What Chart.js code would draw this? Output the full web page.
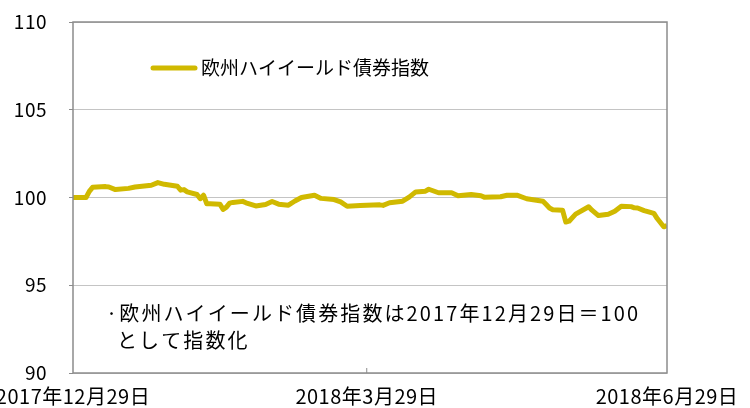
<!DOCTYPE html>
<html>
<head>
<meta charset="utf-8">
<script src="https://cdn.jsdelivr.net/npm/chart.js@4"></script>
<style>
  html, body { margin: 0; padding: 0; background: #fff; }
  #wrap { width: 750px; height: 408px; }
</style>
</head>
<body>
<div id="wrap"><canvas id="myChart"></canvas></div>
<script>
const dates = [
    "2017-12-29", "2018-01-02", "2018-01-03", "2018-01-04", "2018-01-08", "2018-01-09",
    "2018-01-11", "2018-01-15", "2018-01-17", "2018-01-22", "2018-01-24", "2018-01-26",
    "2018-01-30", "2018-01-31", "2018-02-01", "2018-02-02", "2018-02-05", "2018-02-06",
    "2018-02-07", "2018-02-08", "2018-02-09", "2018-02-12", "2018-02-13", "2018-02-14",
    "2018-02-15", "2018-02-16", "2018-02-19", "2018-02-20", "2018-02-23", "2018-02-26",
    "2018-02-28", "2018-03-02", "2018-03-05", "2018-03-07", "2018-03-09", "2018-03-13",
    "2018-03-15", "2018-03-19", "2018-03-21", "2018-03-23", "2018-03-27", "2018-03-29",
    "2018-04-02", "2018-04-03", "2018-04-05", "2018-04-09", "2018-04-11", "2018-04-13",
    "2018-04-16", "2018-04-17", "2018-04-20", "2018-04-24", "2018-04-26", "2018-04-30",
    "2018-05-03", "2018-05-04", "2018-05-09", "2018-05-11", "2018-05-14", "2018-05-17",
    "2018-05-18", "2018-05-22", "2018-05-23", "2018-05-24", "2018-05-25", "2018-05-28",
    "2018-05-29", "2018-05-30", "2018-06-01", "2018-06-05", "2018-06-06", "2018-06-08",
    "2018-06-11", "2018-06-13", "2018-06-15", "2018-06-18", "2018-06-19", "2018-06-20",
    "2018-06-22", "2018-06-25", "2018-06-26", "2018-06-28", "2018-06-29"
];
const values = [
    100.0, 100.0, 100.35, 100.58, 100.62, 100.6,
    100.45, 100.52, 100.6, 100.7, 100.85, 100.75,
    100.64, 100.42, 100.45, 100.32, 100.17, 99.93,
    100.13, 99.64, 99.64, 99.62, 99.32, 99.45,
    99.68, 99.72, 99.78, 99.7, 99.52, 99.6,
    99.77, 99.62, 99.56, 99.8, 100.0, 100.13,
    99.95, 99.88, 99.75, 99.5, 99.54, 99.56,
    99.58, 99.55, 99.7, 99.79, 100.02, 100.32,
    100.36, 100.47, 100.27, 100.27, 100.1, 100.17,
    100.1, 100.02, 100.04, 100.13, 100.13, 99.93,
    99.9, 99.79, 99.6, 99.4, 99.3, 99.28,
    98.6, 98.65, 99.05, 99.47, 99.28, 98.97,
    99.05, 99.22, 99.5, 99.48, 99.41, 99.4,
    99.25, 99.09, 98.8, 98.33, 98.4
];
const tickDates = ["2017-12-29", "2018-03-29", "2018-06-29"];
const tickLabels = ["2017年12月29日", "2018年3月29日", "2018年6月29日"];
const seriesName = "欧州ハイイールド債券指数";
const noteLines = ["·欧州ハイイールド債券指数は2017年12月29日＝100", "として指数化"];

const lineColor = "#d0b900";
const frameColor = "#8c8c8c";
const font = "'Noto Sans CJK JP', 'Noto Sans', sans-serif";

const day0 = Date.parse(dates[0]);
function dayOf(d) {
    return Math.round((Date.parse(d) - day0) / 86400000);
}
const points = dates.map((d, i) => ({ x: dayOf(d), y: values[i] }));
const tickDays = tickDates.map(dayOf);

// legend, note text, frame and the inner tick are drawn by hand
const extras = {
    id: "extras",
    beforeDraw(chart) {
        chart.ctx.letterSpacing = "0.5px";
    },
    afterDraw(chart) {
        const ctx = chart.ctx;
        const a = chart.chartArea;
        ctx.save();
        ctx.strokeStyle = frameColor;
        ctx.lineWidth = 1.5;
        ctx.strokeRect(a.left, a.top, a.right - a.left, a.bottom - a.top);
        let mx = chart.scales.x.getPixelForValue(tickDays[1]);
        ctx.lineWidth = 1;
        ctx.beginPath();
        ctx.moveTo(mx, a.bottom);
        ctx.lineTo(mx, a.bottom - 5);
        ctx.stroke();

        // legend
        ctx.strokeStyle = lineColor;
        ctx.lineWidth = 5;
        ctx.lineCap = "round";
        ctx.beginPath();
        ctx.moveTo(a.left + 80, a.top + 46);
        ctx.lineTo(a.left + 122, a.top + 46);
        ctx.stroke();
        ctx.fillStyle = "#000";
        ctx.font = "19px " + font;
        ctx.textBaseline = "middle";
        ctx.letterSpacing = "0px";
        ctx.fillText(seriesName, a.left + 128, a.top + 46);

        // note
        ctx.font = "20px " + font;
        ctx.letterSpacing = "2.1px";
        ctx.fillText(noteLines[0], a.left + 33, a.top + 291);
        ctx.fillText(noteLines[1], a.left + 44, a.top + 318);
        ctx.restore();
    }
};

const config = {
    type: "line",
    data: {
        datasets: [{
            label: seriesName,
            data: points,
            borderColor: lineColor,
            backgroundColor: lineColor,
            borderWidth: 5,
            pointRadius: 0,
            tension: 0,
            borderJoinStyle: "round"
        }]
    },
    options: {
        responsive: true,
        maintainAspectRatio: false,
        animation: false,
        layout: { padding: { top: 22, right: 83, left: 0, bottom: 0 } },
        plugins: {
            legend: { display: false },
            tooltip: { enabled: false }
        },
        scales: {
            x: {
                type: "linear",
                min: tickDays[0],
                max: tickDays[2],
                afterBuildTicks: (scale) => {
                    scale.ticks = tickDays.map(v => ({ value: v }));
                },
                afterFit: (scale) => {
                    scale.height = 35;
                    scale.paddingLeft = 0;
                    scale.paddingRight = 0;
                },
                grid: { display: false },
                border: { display: false },
                ticks: {
                    autoSkip: false,
                    maxRotation: 0,
                    padding: 3,
                    color: "#000",
                    font: { family: font, size: 20 },
                    callback: (v) => tickLabels[tickDays.indexOf(v)]
                }
            },
            y: {
                min: 90,
                max: 110,
                afterFit: (scale) => {
                    scale.width = 73;
                    scale.paddingTop = 0;
                    scale.paddingBottom = 0;
                },
                ticks: {
                    stepSize: 5,
                    padding: 22,
                    color: "#000",
                    font: { family: font, size: 19 }
                },
                grid: {
                    color: "#c4c4c4",
                    lineWidth: 1,
                    tickLength: 4,
                    tickColor: frameColor
                },
                border: { display: false }
            }
        }
    },
    plugins: [extras]
};

const myChart = new Chart(document.getElementById("myChart"), config);
</script>
</body>
</html>
